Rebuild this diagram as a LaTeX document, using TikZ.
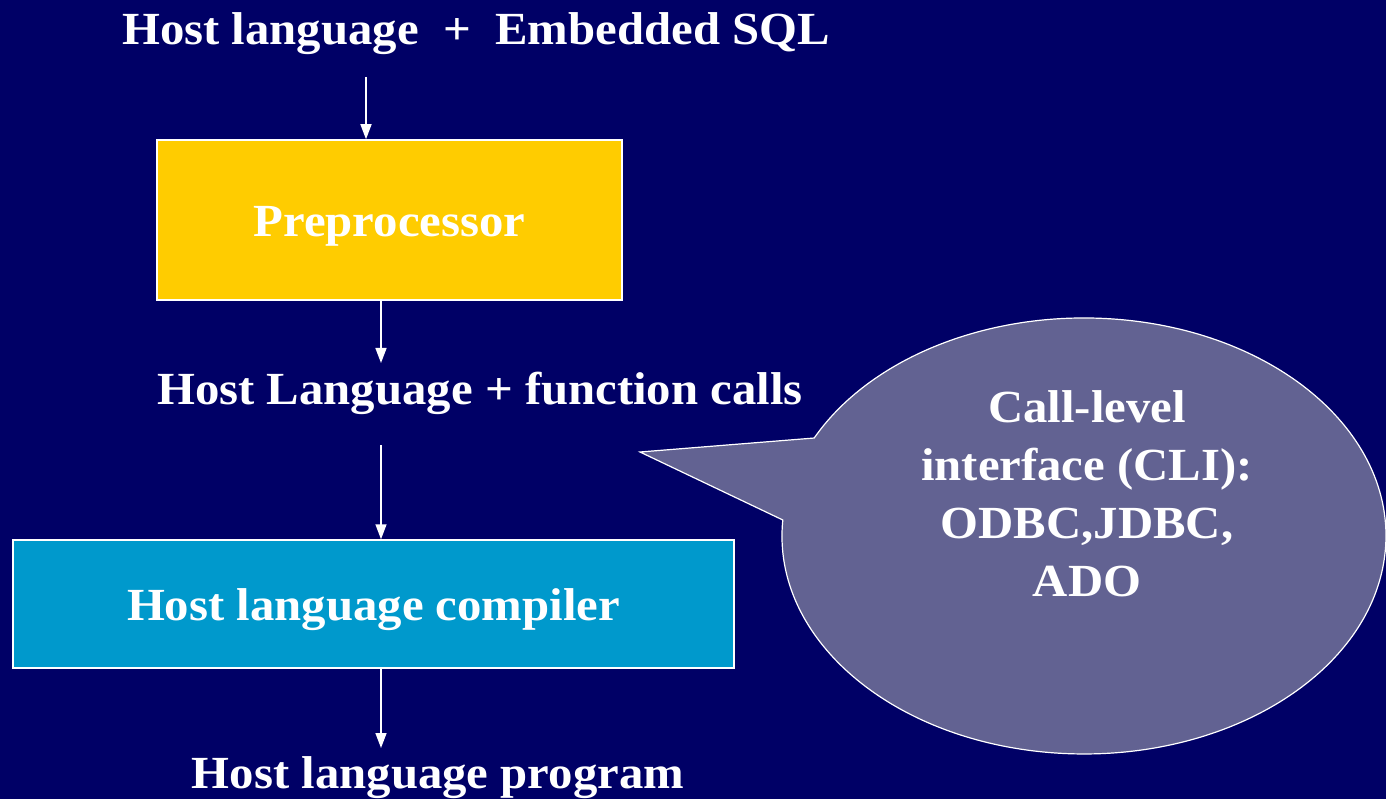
\documentclass[tikz,border=0pt]{standalone}
\usepackage{fontspec}
\setmainfont[FakeStretch=1.06]{Liberation Serif}
\usetikzlibrary{arrows.meta}
\definecolor{bg}{RGB}{0,0,102}
\definecolor{prefill}{RGB}{255,204,0}
\definecolor{compfill}{RGB}{0,153,204}
\definecolor{clifill}{RGB}{98,98,146}
\tikzset{
  txt/.style={text=white,font=\fontsize{46}{58}\selectfont\bfseries,inner sep=0pt},
  stage/.style={draw=white,line width=1.5pt,inner sep=0pt,text=white,text depth=0pt,font=\fontsize{46}{58}\selectfont\bfseries},
  flow/.style={draw=white,line width=1.5pt,-{Triangle[width=11pt,length=15pt]}},
}
\begin{document}
\begin{tikzpicture}[x=1pt,y=-1pt]
\fill[bg] (0,0) rectangle (1386,799);
\useasboundingbox (0,0) rectangle (1386,799);
% callout
\fill[clifill,draw=white,line width=1.2pt] (640,452) -- (782.8,520) arc[start angle=184.2,end angle=-153.3,x radius=302,y radius=218] -- cycle;
\node[txt,align=center] (cli) at (1087,494) {Call-level\\interface (CLI):\\ODBC,JDBC,\\ADO};
% texts
\node[txt] (title) at (476,34) {Host language\ \ +\ \ Embedded SQL};
\node[stage,fill=prefill,text height=34pt,minimum width=465pt,minimum height=160pt] (pre) at (389.5,220) {Preprocessor};
\node[txt] (mid) at (480,393) {Host Language + function calls};
\node[stage,fill=compfill,text height=32pt,minimum width=721pt,minimum height=128pt] (comp) at (373.5,604) {Host language compiler};
\node[txt] (prog) at (438,778) {Host language program};
% arrows
\coordinate (a1) at (366,77);
\coordinate (a2) at (381,363);
\coordinate (a3) at (381,445);
\coordinate (a4) at (381,748);
\draw[flow] (a1) -- (pre.north -| a1);
\draw[flow] (pre.south -| a2) -- (a2);
\draw[flow] (a3) -- (comp.north -| a3);
\draw[flow] (comp.south -| a4) -- (a4);
\end{tikzpicture}
\end{document}
